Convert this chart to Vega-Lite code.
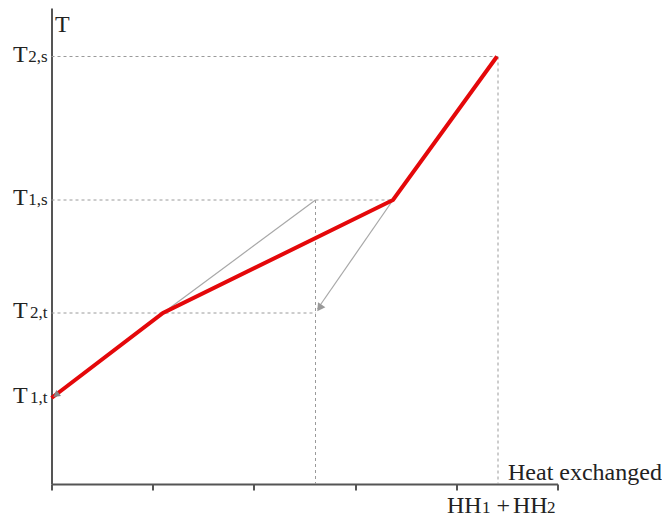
{
  "$schema": "https://vega.github.io/schema/vega-lite/v6.json",
  "width": 506,
  "height": 476,
  "autosize": "none",
  "padding": {"left": 51.5, "top": 8, "right": 104.5, "bottom": 33},
  "background": "white",
  "config": {"view": {"stroke": null}, "text": {"font": "Liberation Serif", "color": "#222"}},
  "datasets": {
    "red": [{"x": 0, "y": 86}, {"x": 111.5, "y": 171}, {"x": 341.5, "y": 284}, {"x": 445.5, "y": 427.5}],
    "gray": [
      {"seg": "a", "x": 111.5, "y": 171}, {"seg": "a", "x": 264, "y": 284},
      {"seg": "b", "x": 341.5, "y": 284}, {"seg": "b", "x": 266, "y": 175}
    ],
    "dashed": [
      {"seg": "h1", "x": 0, "y": 427.5}, {"seg": "h1", "x": 446.5, "y": 427.5},
      {"seg": "v1", "x": 446.5, "y": 427.5}, {"seg": "v1", "x": 446.5, "y": 0},
      {"seg": "h2", "x": 0, "y": 284}, {"seg": "h2", "x": 341.5, "y": 284},
      {"seg": "v2", "x": 264, "y": 284}, {"seg": "v2", "x": 264, "y": 0},
      {"seg": "h3", "x": 0, "y": 171}, {"seg": "h3", "x": 264.5, "y": 171}
    ],
    "arrow1": [{"x": 268, "y": 176}],
    "arrow2": [{"x": 4.5, "y": 89}],
    "ylabels": [
      {"x": 0, "y": 427.5, "sub": "2,s"},
      {"x": 0, "y": 284, "sub": "1,s"},
      {"x": 0, "y": 171, "sub": "2,t"},
      {"x": 0, "y": 86, "sub": "1,t"}
    ],
    "mainText": [
      {"x": 456.5, "y": 4, "t": "Heat exchanged"},
      {"x": 395.5, "y": -29, "t": "HH"},
      {"x": 445, "y": -29, "t": "+"},
      {"x": 461.5, "y": -29, "t": "HH"},
      {"x": 3.5, "y": 452, "t": "T"}
    ],
    "subText": [
      {"x": 430.5, "y": -29, "t": "1"},
      {"x": 495.5, "y": -29, "t": "2"}
    ]
  },
  "encoding": {
    "x": {
      "field": "x", "type": "quantitative",
      "scale": {"domain": [0, 506], "nice": false, "zero": false},
      "axis": {
        "values": [0, 101.2, 202.4, 303.6, 404.8, 506],
        "labels": false, "grid": false, "title": null,
        "domainColor": "#555", "domainWidth": 2,
        "tickColor": "#555", "tickWidth": 2, "tickSize": 6
      }
    },
    "y": {
      "field": "y", "type": "quantitative",
      "scale": {"domain": [0, 476], "nice": false, "zero": false},
      "axis": {
        "labels": false, "ticks": false, "grid": false, "title": null,
        "domainColor": "#555", "domainWidth": 2
      }
    }
  },
  "layer": [
    {
      "data": {"name": "dashed"},
      "mark": {"type": "line", "color": "#9a9a9a", "strokeWidth": 1, "strokeDash": [3, 3]},
      "encoding": {"detail": {"field": "seg"}}
    },
    {
      "data": {"name": "gray"},
      "mark": {"type": "line", "color": "#a8a8a8", "strokeWidth": 1.2},
      "encoding": {"detail": {"field": "seg"}}
    },
    {
      "data": {"name": "red"},
      "mark": {"type": "line", "color": "#e4080a", "strokeWidth": 4},
      "encoding": {}
    },
    {
      "data": {"name": "arrow1"},
      "mark": {"type": "point", "shape": "triangle-up", "angle": 214.5, "filled": true, "color": "#999", "size": 80, "opacity": 1},
      "encoding": {}
    },
    {
      "data": {"name": "arrow2"},
      "mark": {"type": "point", "shape": "triangle-up", "angle": 233, "filled": true, "color": "#888", "size": 60, "opacity": 1},
      "encoding": {}
    },
    {
      "data": {"name": "ylabels"},
      "mark": {"type": "text", "text": "T", "fontSize": 24, "align": "left", "baseline": "alphabetic", "dx": -38.5, "dy": 5},
      "encoding": {}
    },
    {
      "data": {"name": "ylabels"},
      "mark": {"type": "text", "fontSize": 17, "align": "right", "baseline": "alphabetic", "dx": -4, "dy": 5},
      "encoding": {"text": {"field": "sub"}}
    },
    {
      "data": {"name": "mainText"},
      "mark": {"type": "text", "fontSize": 24, "align": "left", "baseline": "alphabetic"},
      "encoding": {"text": {"field": "t"}}
    },
    {
      "data": {"name": "subText"},
      "mark": {"type": "text", "fontSize": 17, "align": "left", "baseline": "alphabetic"},
      "encoding": {"text": {"field": "t"}}
    }
  ]
}
